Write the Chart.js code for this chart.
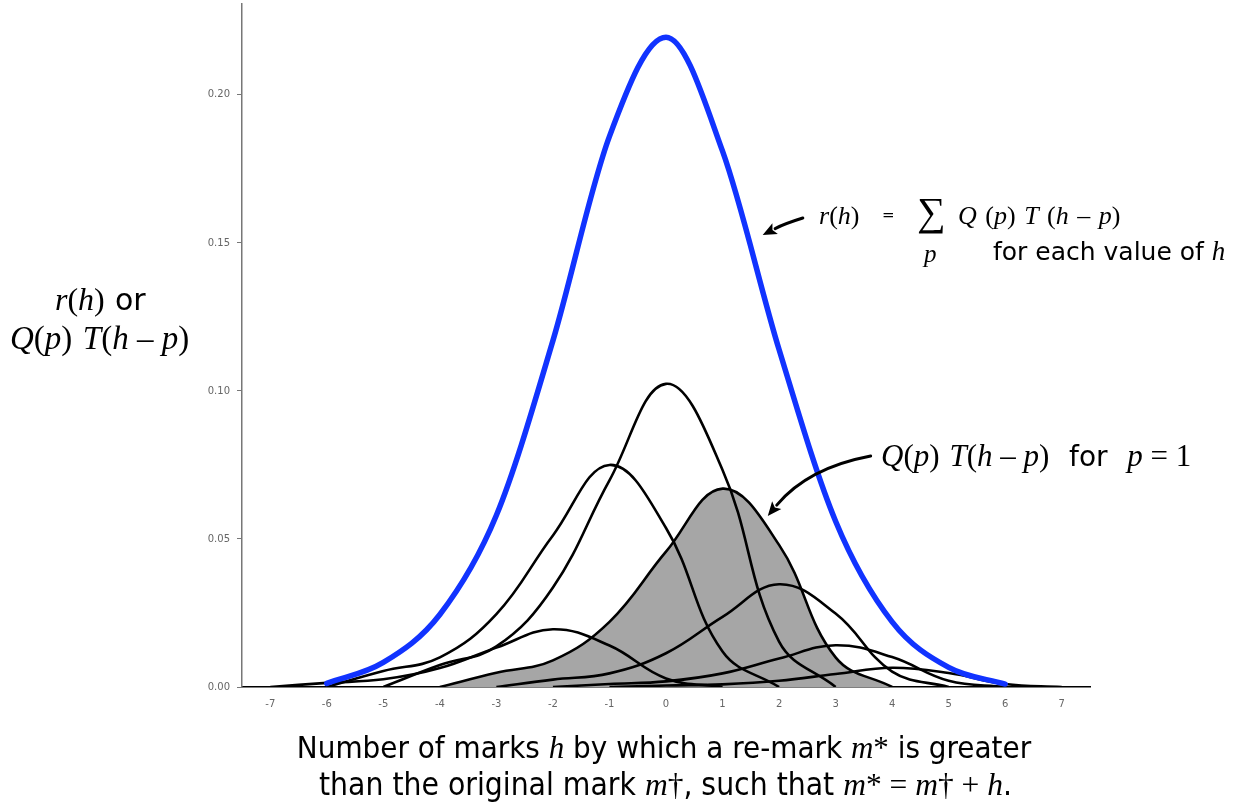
<!DOCTYPE html>
<html>
<head>
<meta charset="utf-8">
<script src="https://cdn.jsdelivr.net/npm/chart.js@4/dist/chart.umd.min.js"></script>
<style>
  html, body { margin: 0; padding: 0; background: #fff; }
  #wrap { position: relative; width: 1249px; height: 805px; }
  #chart { position: absolute; left: 0; top: 0; }
  .lbl { position: absolute; white-space: nowrap; color: #000; font-family: 'DejaVu Sans', sans-serif; line-height: 1; }
  .m { font-family: 'Liberation Serif', serif; font-style: italic; }
  .up { font-family: 'Liberation Serif', serif; }
  .cond { font-stretch: condensed; }
</style>
</head>
<body>
<div id="wrap">
  <canvas id="chart" width="1249" height="805"></canvas>

  <!-- y axis title -->
  <div class="lbl" style="left:55px; top:283px; font-size:32px;"><span class="m">r</span><span class="up">(</span><span class="m">h</span><span class="up">)</span> <span style="font-size:30px">or</span></div>
  <div class="lbl" style="left:10px; top:321px; font-size:33px;"><span class="m">Q</span><span class="up">(</span><span class="m">p</span><span class="up">)</span> <span class="m">T</span><span class="up">(</span><span class="m">h</span><span class="up"> – </span><span class="m">p</span><span class="up">)</span></div>

  <!-- annotation for r(h) -->
  <div class="lbl" style="left:819px; top:202px; font-size:26px;"><span class="m">r</span><span class="up">(</span><span class="m">h</span><span class="up">)</span></div>
  <div class="lbl" style="left:882px; top:208px; font-size:15px;">=</div>
  <div class="lbl up" style="left:917px; top:192px; font-size:40px;">∑</div>
  <div class="lbl" style="left:958px; top:202px; font-size:26px; word-spacing:2px;"><span class="m">Q</span><span class="up"> (</span><span class="m">p</span><span class="up">) </span><span class="m">T</span><span class="up"> (</span><span class="m">h</span><span class="up"> – </span><span class="m">p</span><span class="up">)</span></div>
  <div class="lbl m" style="left:924px; top:241px; font-size:25px;">p</div>
  <div class="lbl" style="left:993px; top:238px; font-size:25px;">for each value of <span class="m" style="font-size:27px">h</span></div>

  <!-- annotation for p = 1 -->
  <div class="lbl" style="left:881px; top:440px; font-size:31px;"><span class="m">Q</span><span class="up">(</span><span class="m">p</span><span class="up">)</span> <span class="m">T</span><span class="up">(</span><span class="m">h</span><span class="up"> – </span><span class="m">p</span><span class="up">)</span>&nbsp; <span style="font-size:28px">for</span>&nbsp; <span class="m">p</span><span class="up"> = 1</span></div>

  <!-- x axis title -->
  <div class="lbl cond" style="left:0; width:1328px; text-align:center; top:732px; font-size:31px;">Number of marks <span class="m">h</span> by which a re-mark <span class="m">m</span><span class="up">*</span> is greater</div>
  <div class="lbl cond" style="left:0; width:1331px; text-align:center; top:769px; font-size:31.5px;">than the original mark <span class="m">m</span><span class="up">†</span>, such that <span class="m">m</span><span class="up">* = </span><span class="m">m</span><span class="up">† + </span><span class="m">h</span>.</div>
</div>

<script>
// h values and tick labels
const hValues = [-7, -6, -5, -4, -3, -2, -1, 0, 1, 2, 3, 4, 5, 6, 7]
const xTicks = [-7, -6, -5, -4, -3, -2, -1, 0, 1, 2, 3, 4, 5, 6, 7]
const yTicks = [0, 0.05, 0.1, 0.15, 0.2]

// r(h), the blue total curve, h = -7 .. 7 (null where not drawn)
const rValues = [null, 0.0012, 0.0083, 0.0245, 0.058, 0.117, 0.186, 0.2195, 0.181, 0.114, 0.056, 0.022, 0.0066, 0.001, null]

// Q(p) T(h - p) for p = -2 .. 4, h = -7 .. 7 (null outside the curve)
const pm2 = [0, 0.0014, 0.0026, 0.0064, 0.0133, 0.0195, 0.014, 0.0029, 0, null, null, null, null, null, null]
const pm1 = [null, 0, 0.0054, 0.010, 0.0246, 0.0512, 0.075, 0.0537, 0.012, 0, null, null, null, null, null]
const p0 = [null, null, 0, 0.0074, 0.0137, 0.0336, 0.0698, 0.1024, 0.0733, 0.0153, 0, null, null, null, null]
const p1 = [null, null, null, 0, 0.0048, 0.009, 0.022, 0.0457, 0.067, 0.048, 0.010, 0, null, null, null]
const p2 = [null, null, null, null, 0, 0.0025, 0.0046, 0.0114, 0.0237, 0.0347, 0.0248, 0.0052, 0, null, null]
const p3 = [null, null, null, null, null, 0, 0.001, 0.0019, 0.0046, 0.0096, 0.0141, 0.0101, 0.0021, 0, null]
const p4 = [null, null, null, null, null, null, 0, 0.0005, 0.0009, 0.0021, 0.0044, 0.0065, 0.0047, 0.001, 0]

// arrows in data units: [start, control, tip] as [h, value]
const arrowR = [[2.42, 0.1584], [2.10, 0.1565], [1.71, 0.1527]]
const arrowP1 = [[3.62, 0.078], [2.51, 0.074], [1.80, 0.0578]]

function pts(values) {
  return hValues.map((h, i) => ({ x: h, y: values[i] })).filter((d) => d.y !== null)
}

function blackCurve(values, filled) {
  return {
    data: pts(values),
    borderColor: '#000',
    borderWidth: 2.6,
    pointRadius: 0,
    tension: 0.4,
    fill: filled ? 'origin' : false,
    backgroundColor: filled ? '#a6a6a6' : 'transparent',
  }
}

const arrowPlugin = {
  id: 'arrows',
  afterDatasetsDraw(chart) {
    const ctx = chart.ctx
    const xs = chart.scales.x
    const ys = chart.scales.y
    ;[arrowR, arrowP1].forEach((a) => {
      const p = a.map(([h, v]) => [xs.getPixelForValue(h), ys.getPixelForValue(v)])
      const ang = Math.atan2(p[2][1] - p[1][1], p[2][0] - p[1][0])
      const len = 14
      const half = 6
      const base = [p[2][0] - Math.cos(ang) * len, p[2][1] - Math.sin(ang) * len]
      ctx.save()
      ctx.strokeStyle = '#000'
      ctx.fillStyle = '#000'
      ctx.lineWidth = 3
      ctx.lineCap = 'round'
      ctx.beginPath()
      ctx.moveTo(p[0][0], p[0][1])
      ctx.quadraticCurveTo(p[1][0], p[1][1], base[0], base[1])
      ctx.stroke()
      ctx.beginPath()
      ctx.moveTo(p[2][0], p[2][1])
      ctx.lineTo(base[0] + Math.sin(ang) * half, base[1] - Math.cos(ang) * half)
      ctx.lineTo(base[0] + Math.cos(ang) * 3, base[1] + Math.sin(ang) * 3)
      ctx.lineTo(base[0] - Math.sin(ang) * half, base[1] + Math.cos(ang) * half)
      ctx.closePath()
      ctx.fill()
      ctx.restore()
    })
  },
}

function noPad(scale) {
  scale.paddingTop = 0
  scale.paddingBottom = 0
  scale.paddingLeft = 0
  scale.paddingRight = 0
}

const ctx = document.getElementById('chart').getContext('2d')
new Chart(ctx, {
  type: 'line',
  data: {
    datasets: [
      {
        data: pts(rValues),
        borderColor: '#1133ff',
        borderWidth: 5.5,
        borderCapStyle: 'round',
        pointRadius: 0,
        cubicInterpolationMode: 'monotone',
        fill: false,
      },
      blackCurve(pm2),
      blackCurve(pm1),
      blackCurve(p0),
      blackCurve(p1, true),
      blackCurve(p2),
      blackCurve(p3),
      blackCurve(p4),
    ],
  },
  options: {
    responsive: false,
    animation: false,
    events: [],
    layout: { padding: { left: 0, top: 4, right: 159, bottom: 0 } },
    plugins: {
      legend: { display: false },
      tooltip: { enabled: false },
      filler: { drawTime: 'beforeDatasetsDraw' },
    },
    scales: {
      x: {
        type: 'linear',
        min: -7.5,
        max: 7.5,
        afterBuildTicks: (scale) => {
          scale.ticks = xTicks.map((v) => ({ value: v }))
        },
        afterFit: (scale) => {
          scale.height = 118
          noPad(scale)
        },
        grid: { display: false },
        border: { display: true, color: '#000', width: 1.5 },
        ticks: {
          color: '#666',
          font: { family: 'DejaVu Sans', size: 10 },
          padding: 3,
          maxRotation: 0,
          autoSkip: false,
        },
      },
      y: {
        min: 0,
        max: 0.2307,
        afterBuildTicks: (scale) => {
          scale.ticks = yTicks.map((v) => ({ value: v }))
        },
        afterFit: (scale) => {
          scale.width = 242
          noPad(scale)
        },
        grid: { drawOnChartArea: false, drawTicks: true, tickLength: 5, color: '#777', lineWidth: 1 },
        border: { display: true, color: '#777', width: 1.5 },
        ticks: {
          color: '#666',
          font: { family: 'DejaVu Sans', size: 10 },
          padding: 7,
          callback: (v) => Number(v).toFixed(2),
        },
      },
    },
  },
  plugins: [arrowPlugin],
})
</script>
</body>
</html>
